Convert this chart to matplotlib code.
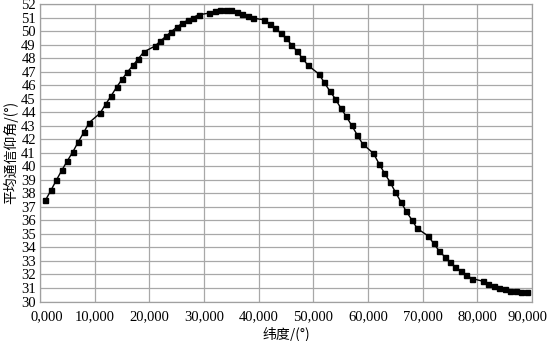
import matplotlib
matplotlib.use("Agg")
import matplotlib.pyplot as plt
from matplotlib.ticker import FixedLocator
from matplotlib.transforms import ScaledTranslation

# latitude (deg), points at every degree except multiples of 10
latitude = [1, 2, 3, 4, 5, 6, 7, 8, 9,
            11, 12, 13, 14, 15, 16, 17, 18, 19,
            21, 22, 23, 24, 25, 26, 27, 28, 29,
            31, 32, 33, 34, 35, 36, 37, 38, 39,
            41, 42, 43, 44, 45, 46, 47, 48, 49,
            51, 52, 53, 54, 55, 56, 57, 58, 59,
            61, 62, 63, 64, 65, 66, 67, 68, 69,
            71, 72, 73, 74, 75, 76, 77, 78, 79,
            81, 82, 83, 84, 85, 86, 87, 88, 89]
elevation = [37.49, 38.22, 38.98, 39.71, 40.40, 41.06, 41.80, 42.50, 43.23,
             43.93, 44.58, 45.20, 45.84, 46.43, 46.97, 47.46, 47.96, 48.46,
             48.88, 49.25, 49.60, 49.95, 50.28, 50.57, 50.80, 51.00, 51.20,
             51.33, 51.45, 51.52, 51.55, 51.52, 51.43, 51.28, 51.13, 50.95,
             50.83, 50.55, 50.25, 49.85, 49.45, 49.00, 48.50, 48.00, 47.47,
             46.83, 46.20, 45.57, 45.00, 44.32, 43.70, 43.03, 42.34, 41.66,
             40.95, 40.20, 39.50, 38.85, 38.10, 37.38, 36.66, 36.05, 35.40,
             34.85, 34.30, 33.75, 33.32, 32.90, 32.55, 32.25, 31.95, 31.70,
             31.50, 31.33, 31.13, 31.00, 30.90, 30.80, 30.75, 30.70, 30.68]

x_ticks = [0, 10, 20, 30, 40, 50, 60, 70, 80, 90]
x_tick_labels = ["0,000", "10,000", "20,000", "30,000", "40,000", "50,000",
                 "60,000", "70,000", "80,000", "90,000"]
y_ticks = list(range(30, 53))

xlabel = "纬度/(°)"
ylabel = "平均通信仰角/(°)"

serif = ["Liberation Serif", "DejaVu Serif"]
cjk = ["Noto Sans CJK SC", "DejaVu Sans"]

fig = plt.figure(figsize=(5.5, 3.41), dpi=100)
ax = fig.add_axes([40/550, 1-301.5/341, (532-40)/550, (301.5-4)/341])

ax.plot(latitude, elevation, color="black", lw=1.0, marker="s",
        markersize=3.6, markerfacecolor="black", markeredgecolor="black", zorder=3)

ax.set_xlim(0, 90)
ax.set_ylim(30, 52)
ax.xaxis.set_major_locator(FixedLocator(x_ticks))
ax.yaxis.set_major_locator(FixedLocator(y_ticks))
ax.set_xticklabels(x_tick_labels, family=serif, fontsize=10.5)
ax.set_yticklabels([str(v) for v in y_ticks], family=serif, fontsize=10.5)
ax.tick_params(axis="x", length=0, pad=6)
ax.tick_params(axis="y", length=0, pad=3)

labels = ax.get_xticklabels()
labels[0].set_transform(labels[0].get_transform() + ScaledTranslation(7/100, 0, fig.dpi_scale_trans))
labels[-1].set_transform(labels[-1].get_transform() + ScaledTranslation(-5/100, 0, fig.dpi_scale_trans))

ax.grid(True, color="#a8a8a8", lw=0.9)
ax.set_axisbelow(True)
for s in ax.spines.values():
    s.set_color("#a0a0a0")
    s.set_linewidth(0.9)

ax.set_xlabel(xlabel, family=cjk, fontsize=10, labelpad=3)
ax.set_ylabel(ylabel, family=cjk, fontsize=10, labelpad=2)

fig.savefig("out.png", dpi=100)
